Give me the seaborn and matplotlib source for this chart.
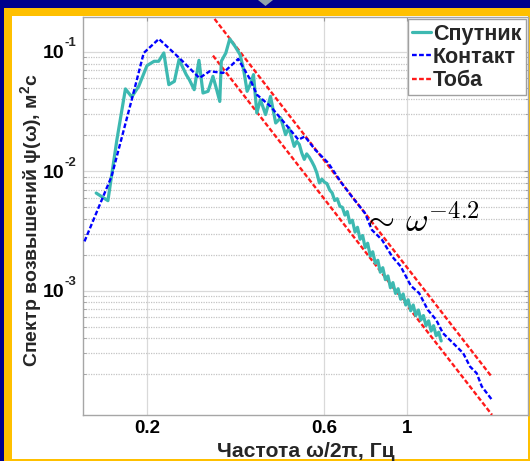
import matplotlib
matplotlib.use("Agg")
import matplotlib.pyplot as plt
import seaborn as sns
import pandas as pd
from matplotlib.patches import Rectangle, Polygon
from matplotlib.lines import Line2D
from matplotlib.ticker import FixedLocator, NullLocator, NullFormatter

# ---------------- data ----------------
sat_freq = [
    0.146, 0.157, 0.166, 0.175, 0.182, 0.190, 0.200, 0.209, 0.215, 0.222,
    0.229, 0.237, 0.244, 0.255, 0.260, 0.268, 0.276, 0.283, 0.292, 0.301,
    0.308, 0.314, 0.317, 0.326, 0.334, 0.345, 0.356, 0.364, 0.372, 0.379,
    0.387, 0.395, 0.404, 0.417, 0.430, 0.444, 0.458, 0.472, 0.482, 0.498,
    0.506, 0.514, 0.522, 0.530, 0.538, 0.547, 0.556, 0.564, 0.573, 0.582,
    0.591, 0.601, 0.610, 0.620, 0.630, 0.640, 0.650, 0.661, 0.671, 0.682,
    0.692, 0.703, 0.714, 0.726, 0.737, 0.749, 0.761, 0.773, 0.785, 0.798,
    0.810, 0.823, 0.836, 0.849, 0.862, 0.876, 0.890, 0.904, 0.918, 0.933,
    0.948, 0.963, 0.978, 0.994, 1.009, 1.025, 1.041, 1.058, 1.075, 1.092,
    1.109, 1.127, 1.145, 1.163, 1.181, 1.200, 1.219, 1.238]
sat_psd = [
    0.00658, 0.00568, 0.0184, 0.0490, 0.0420, 0.0515, 0.0768, 0.0835, 0.0835, 0.0980,
    0.0532, 0.0567, 0.0863, 0.0646, 0.0586, 0.0483, 0.0851, 0.0453, 0.0468, 0.0625,
    0.0483, 0.0385, 0.0835, 0.0980, 0.1285, 0.1116, 0.0950, 0.0711, 0.0468, 0.0532,
    0.0646, 0.0308, 0.0398, 0.0299, 0.0425, 0.0254, 0.0280, 0.0203, 0.0231, 0.0162,
    0.0178, 0.0168, 0.0142, 0.0126, 0.0140, 0.0131, 0.0120, 0.0110, 0.0097, 0.0080,
    0.0086, 0.0081, 0.0079, 0.0070, 0.0066, 0.0057, 0.0059, 0.0051, 0.0050, 0.0043,
    0.0046, 0.0037, 0.0039, 0.0031, 0.0034, 0.0027, 0.0029, 0.0023, 0.0025, 0.00195,
    0.00212, 0.00170, 0.00180, 0.00143, 0.00156, 0.00124, 0.00133, 0.00106, 0.00117, 0.00095,
    0.00104, 0.00085, 0.00094, 0.00076, 0.00084, 0.00068, 0.00076, 0.00062, 0.00069, 0.00057,
    0.00062, 0.00051, 0.00056, 0.00046, 0.00051, 0.00042, 0.00045, 0.00038]

con_freq = [0.1358, 0.1606, 0.182, 0.196, 0.2153, 0.2443, 0.2768, 0.295, 0.3206, 0.352,
            0.3793, 0.3953, 0.4297, 0.4775, 0.511, 0.532, 0.5666, 0.615, 0.668, 0.711,
            0.772, 0.806, 0.858, 0.913, 0.963, 1.026, 1.08, 1.139, 1.2, 1.251,
            1.332, 1.419, 1.48, 1.542, 1.592, 1.696]
con_psd = [2.59e-3, 9.08e-3, 0.0399, 0.098, 0.1285, 0.0891, 0.0605, 0.0689, 0.0667, 0.0873,
           0.0586, 0.0438, 0.0351, 0.0238, 0.0184, 0.0196, 0.0152, 0.01174, 7.98e-3, 6.17e-3,
           4.47e-3, 3.23e-3, 2.67e-3, 1.94e-3, 1.6e-3, 1.1e-3, 9.55e-4, 6.93e-4, 5.71e-4, 4.42e-4,
           3.65e-4, 3.0e-4, 2.32e-4, 2.04e-4, 1.58e-4, 1.22e-4]

toba_upper_freq = [0.304, 1.696]
toba_upper_psd = [0.189, 1.89e-4]
toba_lower_freq = [0.301, 1.696]
toba_lower_psd = [0.0932, 9.14e-5]

labels = ["Спутник", "Контакт", "Тоба"]
xtick_vals = [0.2, 0.6, 1.0]
xtick_labels = ["0.2", "0.6", "1"]
ytick_vals = [1e-3, 1e-2, 1e-1]
ytick_base = ["10", "10", "10"]
ytick_exps = ["-3", "-2", "-1"]

# ---------------- style ----------------
sns.set_theme(style="white")
plt.rcParams["font.family"] = ["Liberation Sans", "DejaVu Sans"]
plt.rcParams["mathtext.fontset"] = "custom"
plt.rcParams["mathtext.rm"] = "Liberation Sans"
plt.rcParams["mathtext.bf"] = "Liberation Sans:bold"
plt.rcParams["mathtext.it"] = "Liberation Sans:italic"

W, H = 530, 461
fig = plt.figure(figsize=(W / 100, H / 100), dpi=100)
fig.patch.set_facecolor("#00008C")
fig.patches.append(Rectangle((4 / W, 0), 526 / W, 453 / H, transform=fig.transFigure,
                             facecolor="#FFC000", edgecolor="none", zorder=-10))
fig.patches.append(Rectangle((12 / W, 2 / H), 516 / W, 443 / H, transform=fig.transFigure,
                             facecolor="white", edgecolor="none", zorder=-9))
fig.patches.append(Polygon([(258 / W, 1), (273 / W, 1), (265.5 / W, (H - 6) / H)], closed=True,
                           transform=fig.transFigure, facecolor="#8FA4AC", edgecolor="none", zorder=-8))

ax = fig.add_axes([83.3 / W, (H - 414.5) / H, (527.7 - 83.3) / W, (414.5 - 17.3) / H])
ax.set_facecolor("white")

cyan = "#3DB9B1"
blue = "#0000FF"
red = "#FF1A1A"
dots = (0, (2.0, 1.0))

df_sat = pd.DataFrame({"freq": sat_freq, "psd": sat_psd})
df_con = pd.DataFrame({"freq": con_freq, "psd": con_psd})
df_tu = pd.DataFrame({"freq": toba_upper_freq, "psd": toba_upper_psd})
df_tl = pd.DataFrame({"freq": toba_lower_freq, "psd": toba_lower_psd})

sns.lineplot(data=df_tu, x="freq", y="psd", ax=ax, color=red, lw=1.7, linestyle=dots,
             estimator=None, sort=False, zorder=3)
sns.lineplot(data=df_tl, x="freq", y="psd", ax=ax, color=red, lw=1.7, linestyle=dots,
             estimator=None, sort=False, zorder=3)
sns.lineplot(data=df_sat, x="freq", y="psd", ax=ax, color=cyan, lw=2.3,
             estimator=None, sort=False, zorder=4)
sns.lineplot(data=df_con, x="freq", y="psd", ax=ax, color=blue, lw=1.7, linestyle=dots,
             estimator=None, sort=False, zorder=5)

ax.set_xscale("log")
ax.set_yscale("log")
ax.set_xlim(0.1348, 2.116)
ax.set_ylim(9.2e-5, 0.195)

ax.xaxis.set_major_locator(FixedLocator(xtick_vals))
ax.xaxis.set_minor_locator(NullLocator())
ax.set_xticklabels(xtick_labels, fontsize=13.5, fontweight="bold")
ax.yaxis.set_major_locator(FixedLocator(ytick_vals))
minor_y = [k * 10.0 ** e for e in (-4, -3, -2) for k in range(2, 10)]
ax.yaxis.set_minor_locator(FixedLocator(minor_y))
ax.set_yticklabels(ytick_base, fontsize=14, fontweight="bold")
ax.yaxis.set_minor_formatter(NullFormatter())

ax.tick_params(axis="both", which="major", direction="in", length=3, width=0.8,
               color="#9a9a9a", top=True, right=True, labelcolor="black")
ax.tick_params(axis="x", which="major", pad=4)
ax.tick_params(axis="y", which="major", pad=13.5)
ax.tick_params(axis="y", which="minor", direction="in", length=2, width=0.6,
               color="#9a9a9a", left=True, right=True)

# exponents of the y tick labels
for v, e in zip(ytick_vals, ytick_exps):
    ax.annotate(e, xy=(0, v), xycoords=("axes fraction", "data"),
                xytext=(-13.6, 6.3), textcoords="offset points",
                ha="left", va="center", fontsize=9.5, fontweight="bold",
                annotation_clip=False)

ax.grid(which="major", axis="both", color="#d9d9d9", lw=0.9, ls="-", zorder=0)
ax.grid(which="minor", axis="y", color="#c4c4c4", lw=0.9, ls=(0, (1, 1)), zorder=0)
ax.set_axisbelow(True)

for s in ax.spines.values():
    s.set_color("#a6a6a6")
    s.set_linewidth(1.0)

ax.set_xlabel("Частота ω/2π, Гц", fontsize=15.2, fontweight="bold")
ax.set_ylabel("Спектр возвышений ψ(ω), м$^{\\mathbf{2}}$с", fontsize=14, fontweight="bold")
ax.xaxis.set_label_coords(0.5, -0.068)
ax.yaxis.set_label_coords(-0.088, 0.49)

ax.text(0.624, 0.459, r"$\sim\,\omega^{-4.2}$", transform=ax.transAxes, fontsize=25,
        math_fontfamily="cm", ha="left", va="baseline", color="black", zorder=6)

handles = [Line2D([], [], color=cyan, lw=2.3),
           Line2D([], [], color=blue, lw=1.7, linestyle=dots),
           Line2D([], [], color=red, lw=1.7, linestyle=dots)]
leg = ax.legend(handles, labels, loc="upper right", bbox_to_anchor=(1.0, 1.0),
                borderaxespad=0.1, prop={"size": 15.5, "weight": "bold"},
                handlelength=0.85, handletextpad=0.1, borderpad=0.2, labelspacing=0.1,
                frameon=True, fancybox=False, framealpha=1, edgecolor="#a0a0a0")
leg.get_frame().set_linewidth(1.0)

fig.savefig("out.png", dpi=100, facecolor=fig.get_facecolor())
